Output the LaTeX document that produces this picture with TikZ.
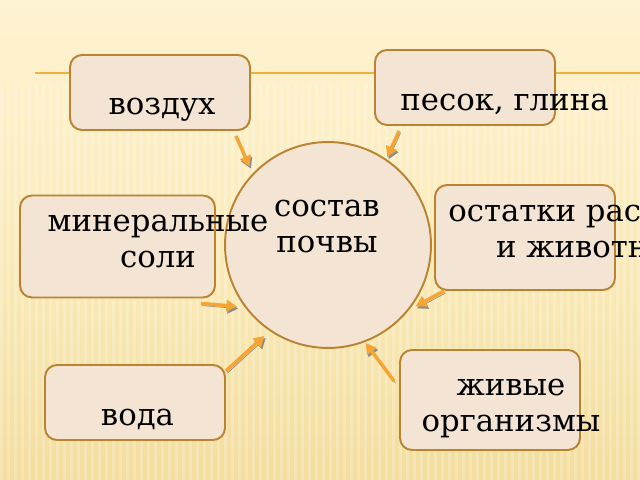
\documentclass[tikz,border=0pt]{standalone}
\usepackage{fontspec}
\setmainfont{DejaVu Serif}
\usetikzlibrary{arrows.meta}
\definecolor{bgtop}{HTML}{FEF3D2}
\definecolor{bgmid}{HTML}{FBEBBB}
\definecolor{bgbot}{HTML}{F3DE9F}
\definecolor{boxfill}{HTML}{F4E4D4}
\definecolor{boxline}{HTML}{B98332}
\definecolor{arrowc}{HTML}{F4A532}
\definecolor{rulec}{HTML}{F2B13E}

\begin{document}
\begin{tikzpicture}[x=0.02cm,y=0.02cm,
    part/.style={draw=boxline,fill=boxfill,line width=1.1pt,rounded corners=0.24cm,
      minimum width=3.6cm,minimum height=1.5cm},
    lbl/.style={font=\fontsize{17.5}{21}\selectfont,inner sep=0pt,align=center,anchor=base},
    feed/.style={draw=arrowc,line width=2pt,-{Triangle[length=6pt,width=6.5pt]},
      preaction={draw=black!45,transform canvas={shift={(0.8pt,-1.2pt)}}}}]
  \useasboundingbox (0,0) rectangle (640,480);
  \shade[top color=bgtop,bottom color=bgbot,middle color=bgmid] (0,0) rectangle (640,480);
  \foreach \i in {0,7,...,640}
    \fill[white,opacity=0.22] (\i,0) rectangle (\i+3,395);
  \draw[rulec,line width=1.2pt] (35,407) -- (640,407);

  \node[part] (vozdukh) at (160,387.5) {};
  \node[part] (pesok) at (465,392.5) {};
  \node[part,minimum height=2.1cm] (ostatki) at (525,242.5) {};
  \node[part,minimum width=3.9cm,minimum height=2.04cm] (mineral) at (117.5,233.5) {};
  \node[part] (voda) at (135,77.5) {};
  \node[part,minimum height=2cm] (zhivye) at (490,80) {};
  \node[part,circle,minimum size=4.12cm] (sostav) at (328,235) {};

  \draw[feed] ([shift={(-15,-5)}]vozdukh.south east) -- ([shift={(135:7)}]sostav.135);
  \draw[feed] ([shift={(25,-5)}]pesok.south west) -- ([shift={(56:2)}]sostav.56);
  \draw[feed] ([shift={(10,0)}]ostatki.south west) -- ([shift={(-35:3)}]sostav.-35);
  \draw[feed] ([shift={(-15,-5)}]mineral.south east) -- ([shift={(214:6)}]sostav.214);
  \draw[feed] ([shift={(0,-7)}]voda.north east) -- ([shift={(235:7)}]sostav.235);
  \draw[feed] ([shift={(-5,-32)}]zhivye.north west) -- ([shift={(-69:1)}]sostav.-69);

  \node[lbl] (t-vozdukh) at (162,365) {воздух};
  \node[lbl] (t-pesok) at (504.5,369) {песок, глина};
  \node[lbl] (t-sostav) at (327,227) {состав\\почвы};
  \node[lbl,anchor=base west] (t-ostatki) at (448,222) {остатки растений\\и животных};
  \node[lbl] (t-mineral) at (158,212) {минеральные\\соли};
  \node[lbl] (t-voda) at (137.5,54) {вода};
  \node[lbl] (t-zhivye) at (511,48) {живые\\организмы};
\end{tikzpicture}
\end{document}
